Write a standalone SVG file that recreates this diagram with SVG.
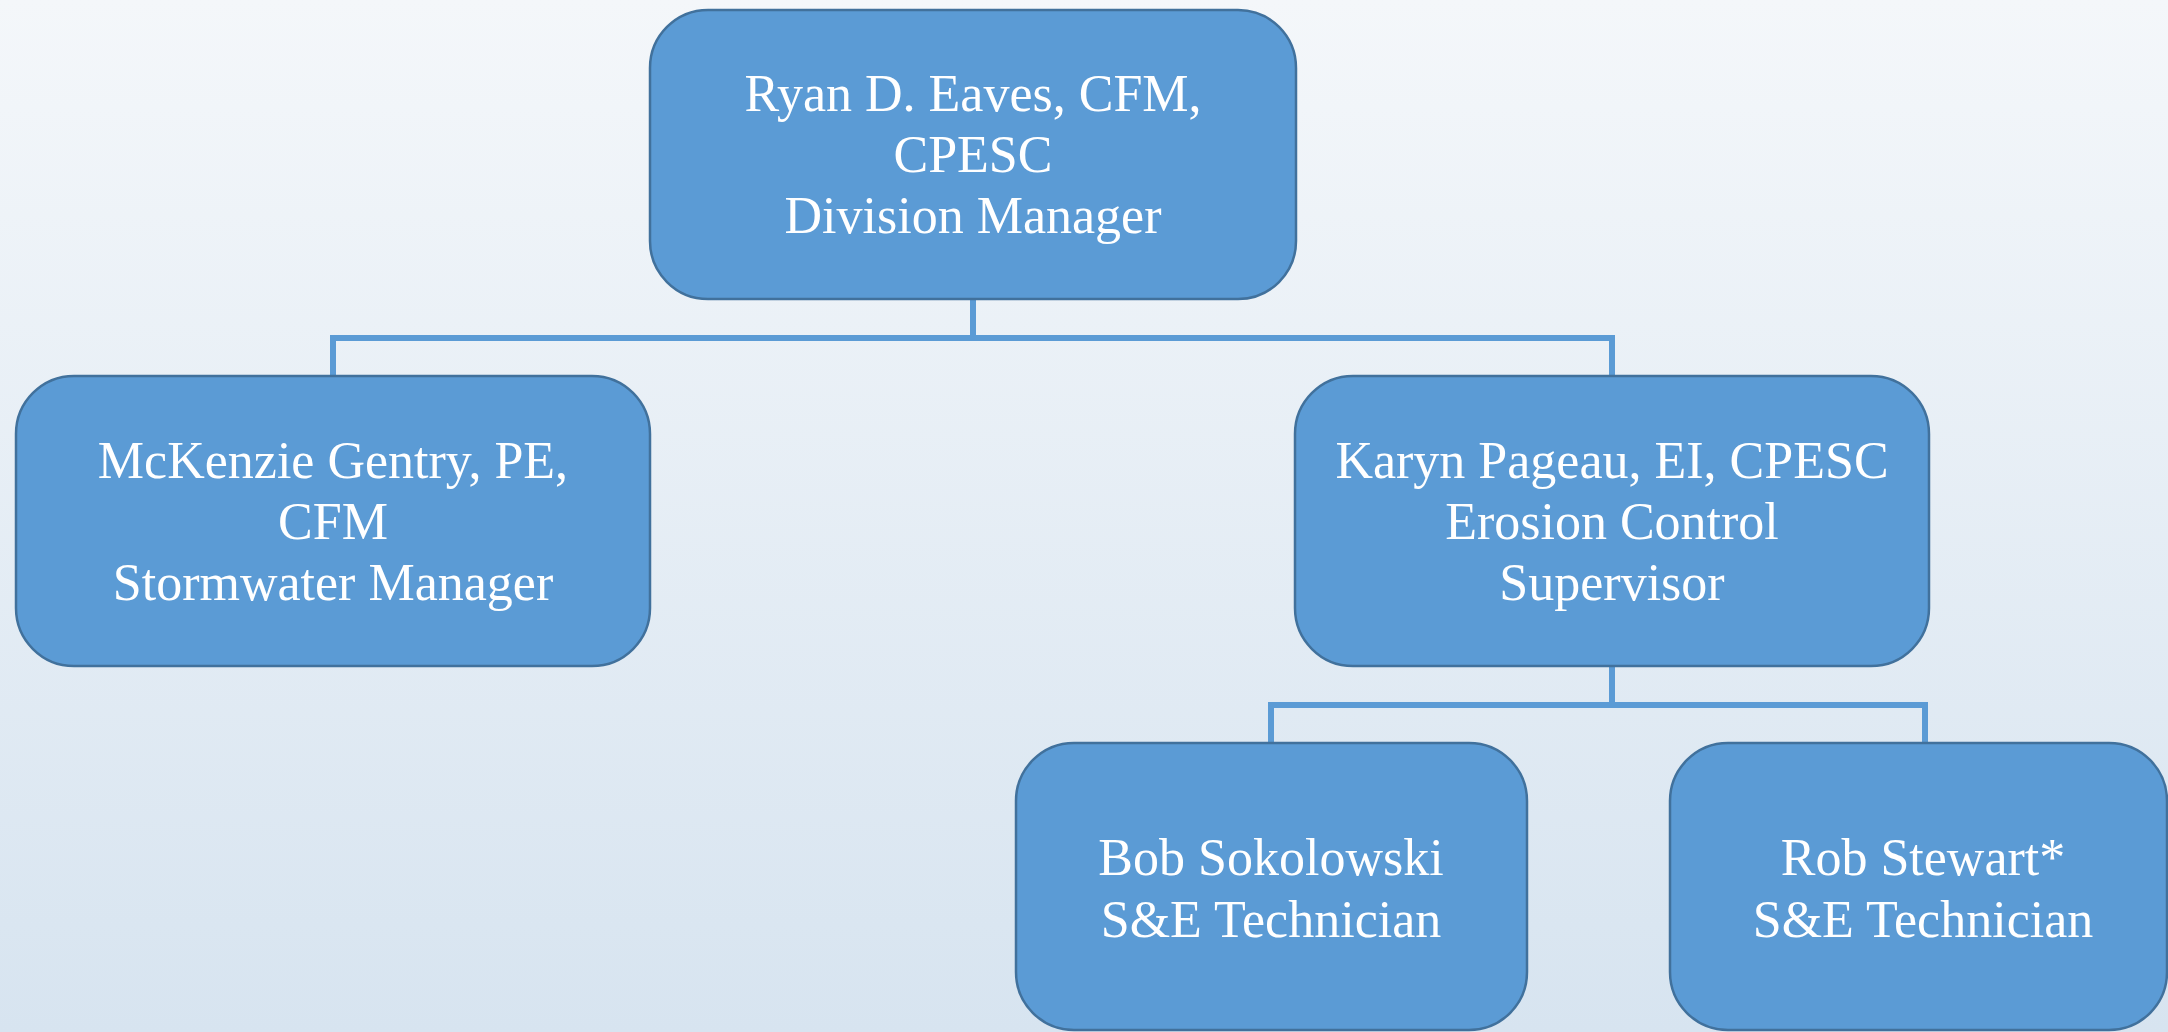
<svg xmlns="http://www.w3.org/2000/svg" width="2168" height="1032" viewBox="0 0 2168 1032">
<defs>
<linearGradient id="bg" x1="0" y1="0" x2="0" y2="1">
<stop offset="0" stop-color="#F4F7FA"/>
<stop offset="1" stop-color="#D7E4F0"/>
</linearGradient>
<style>
.box{fill:#5B9BD5;stroke:#41719C;stroke-width:2.5}
.lbl{font-family:"Liberation Serif","Times New Roman",serif;font-size:52px;fill:#FFFFFF;text-anchor:middle}
.conn{fill:none;stroke:#5B9BD5;stroke-width:6}
</style>
</defs>
<rect x="0" y="0" width="2168" height="1032" fill="url(#bg)"/>
<g id="connectors">
<path class="conn" d="M973 299 V338 M333 376 V338 H1612 V376"/>
<path class="conn" d="M1612 666 V705 M1271 743 V705 H1925 V743"/>
</g>
<g id="node-ryan">
<rect class="box" x="650" y="10" width="646" height="289" rx="58" ry="58"/>
<text class="lbl" x="973" y="111">Ryan D. Eaves, CFM,</text>
<text class="lbl" x="973" y="172">CPESC</text>
<text class="lbl" x="973" y="233">Division Manager</text>
</g>
<g id="node-mckenzie">
<rect class="box" x="16" y="376" width="634" height="290" rx="58" ry="58"/>
<text class="lbl" x="333" y="478">McKenzie Gentry, PE,</text>
<text class="lbl" x="333" y="539">CFM</text>
<text class="lbl" x="333" y="600">Stormwater Manager</text>
</g>
<g id="node-karyn">
<rect class="box" x="1295" y="376" width="634" height="290" rx="58" ry="58"/>
<text class="lbl" x="1612" y="478">Karyn Pageau, EI, CPESC</text>
<text class="lbl" x="1612" y="539">Erosion Control</text>
<text class="lbl" x="1612" y="600">Supervisor</text>
</g>
<g id="node-bob">
<rect class="box" x="1016" y="743" width="511" height="287" rx="58" ry="58"/>
<text class="lbl" x="1271" y="875">Bob Sokolowski</text>
<text class="lbl" x="1271" y="937">S&amp;E Technician</text>
</g>
<g id="node-rob">
<rect class="box" x="1670" y="743" width="497" height="287" rx="58" ry="58"/>
<text class="lbl" x="1923" y="875">Rob Stewart*</text>
<text class="lbl" x="1923" y="937">S&amp;E Technician</text>
</g>
</svg>
